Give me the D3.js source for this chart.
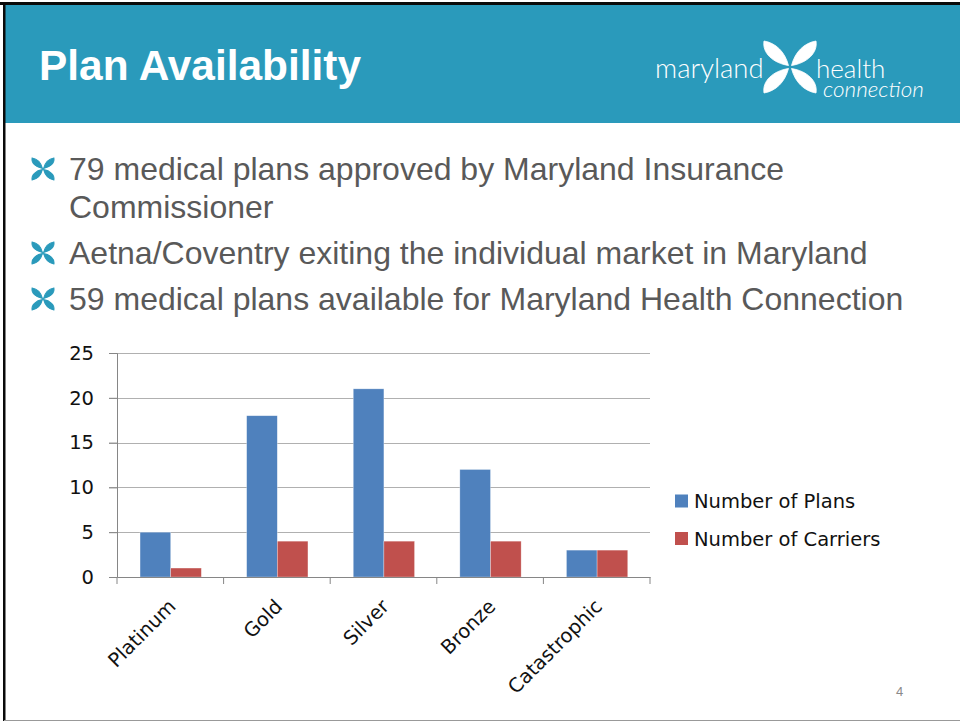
<!DOCTYPE html>
<html><head><meta charset="utf-8">
<script src="https://cdn.jsdelivr.net/npm/d3@7"></script>
<style>html,body{margin:0;padding:0;background:#fff}svg{display:block}text{font-family:"Liberation Sans",Arial,sans-serif}</style>
</head><body><svg id="c" width="960" height="721"></svg>
<script>
const categories=["Platinum","Gold","Silver","Bronze","Catastrophic"];
const seriesNames=["Number of Plans","Number of Carriers"];
const plans=[5,18,21,12,3];
const carriers=[1,4,4,4,3];
const yTicks=[0,5,10,15,20,25];
const seriesColors=["#4F81BD","#C0504D"];
const bullets=[
 {lines:["79 medical plans approved by Maryland Insurance","Commissioner"],y:[180,218]},
 {lines:["Aetna/Coventry exiting the individual market in Maryland"],y:[264]},
 {lines:["59 medical plans available for Maryland Health Connection"],y:[310]}];

const svg=d3.select("#c");
// slide frame
svg.append("rect").attr("width",960).attr("height",721).attr("fill","#fff");
svg.append("rect").attr("x",4).attr("y",4).attr("width",956).attr("height",119).attr("fill","#2A9ABB");
svg.append("rect").attr("x",0).attr("y",2).attr("width",960).attr("height",3).attr("fill","#0a0a0a");
svg.append("rect").attr("x",3).attr("y",2).attr("width",2.5).attr("height",719).attr("fill","#0a0a0a");
svg.append("rect").attr("x",4).attr("y",720).attr("width",956).attr("height",1).attr("fill","#999");
svg.append("text").attr("x",39).attr("y",80).attr("fill","#fff").attr("font-size",42.4).attr("font-weight",700).text("Plan Availability");

// flower
const petal="M-1.5,-1.5 C-5,-15 -14,-24 -26,-26 C-28,-14 -17,-4 -1.5,-1.5Z";
function flower(g,s,col,sw){
 [[1,1],[-1,1],[1,-1],[-1,-1]].forEach(([a,b])=>{
  g.append("path").attr("d",petal).attr("fill",col).attr("stroke",col).attr("stroke-width",sw)
   .attr("transform",`scale(${a*s},${b*s})`);
 });
}
flower(svg.append("g").attr("transform","translate(790,67)"),1,"#fff",0.8);
const lf='Lato,"Open Sans",sans-serif';
svg.append("text").attr("x",655).attr("y",78).attr("fill","#fff").attr("font-size",27.5).attr("font-weight",300).style("font-family",lf).text("maryland");
svg.append("text").attr("x",816).attr("y",78).attr("fill","#fff").attr("font-size",26).attr("font-weight",300).style("font-family",lf).text("health");
svg.append("text").attr("x",823).attr("y",96.5).attr("fill","#fff").attr("font-size",22.5).attr("font-style","italic").attr("font-weight",300).style("font-family",lf).text("connection");

// bullets
bullets.forEach(b=>{
 flower(svg.append("g").attr("transform",`translate(43,${b.y[0]-11})`),0.42,"#2A9ABB",2.5);
 b.lines.forEach((t,i)=>svg.append("text").attr("x",69).attr("y",b.y[i]).attr("fill","#595959").attr("font-size",32).text(t));
});

// chart
const x=d3.scaleBand().domain(categories).range([117,650]);
const y=d3.scaleLinear().domain([0,25]).range([577,353]);
const barW=x.bandwidth()*0.2875;
const cf='"DejaVu Sans",sans-serif';
const grid=svg.append("g");
grid.selectAll("line").data(yTicks.filter(d=>d>0)).join("line")
 .attr("x1",109).attr("x2",650).attr("y1",d=>Math.round(y(d))+.5).attr("y2",d=>Math.round(y(d))+.5)
 .attr("stroke","#b0b0b0").attr("stroke-width",1);
const series=[plans,carriers];
series.forEach((vals,si)=>{
 svg.append("g").selectAll("rect").data(vals).join("rect")
  .attr("x",(d,i)=>x(categories[i])+x.bandwidth()/2-barW+si*barW+0.4)
  .attr("width",barW)
  .attr("y",d=>y(d)).attr("height",d=>y(0)-y(d))
  .attr("fill",seriesColors[si]).attr("stroke","#fff").attr("stroke-opacity",.5).attr("stroke-width",.6);
});
const ya=svg.append("g").attr("transform","translate(117,0)")
 .call(d3.axisLeft(y).tickValues(yTicks).tickSize(8).tickPadding(15).tickFormat(d3.format("d")));
ya.selectAll("text").style("font-family",cf).attr("font-size",19.5).attr("fill","#111");
const xa=svg.append("g").attr("transform","translate(0,577)")
 .call(d3.axisBottom(x).tickSize(0).tickFormat(""));
const tickPos=d3.range(categories.length+1).map(i=>117+i*x.step());
xa.selectAll("line.sep").data(tickPos).join("line").attr("class","sep")
 .attr("x1",d=>d).attr("x2",d=>d).attr("y1",0).attr("y2",7).attr("stroke","#868686");
svg.selectAll(".domain").attr("stroke","#868686");
ya.selectAll(".tick line").attr("stroke","#868686");
categories.forEach(c=>{
 const px=x(c)+x.bandwidth()/2;
 svg.append("text").attr("transform",`translate(${px-3},598) rotate(-45)`).attr("text-anchor","end").attr("dy","0.7em")
  .style("font-family",cf).attr("font-size",19.5).attr("fill","#111").text(c);
});
// legend
seriesNames.forEach((n,i)=>{
 const ly=501+i*37.5;
 svg.append("rect").attr("x",675).attr("y",ly-6.5).attr("width",13).attr("height",13).attr("fill",seriesColors[i]);
 svg.append("text").attr("x",694).attr("y",ly+7).style("font-family",cf).attr("font-size",19.5).attr("fill","#111").text(n);
});
svg.append("text").attr("x",896).attr("y",696).attr("fill","#8a8a8a").attr("font-size",13).text("4");
</script></body></html>
